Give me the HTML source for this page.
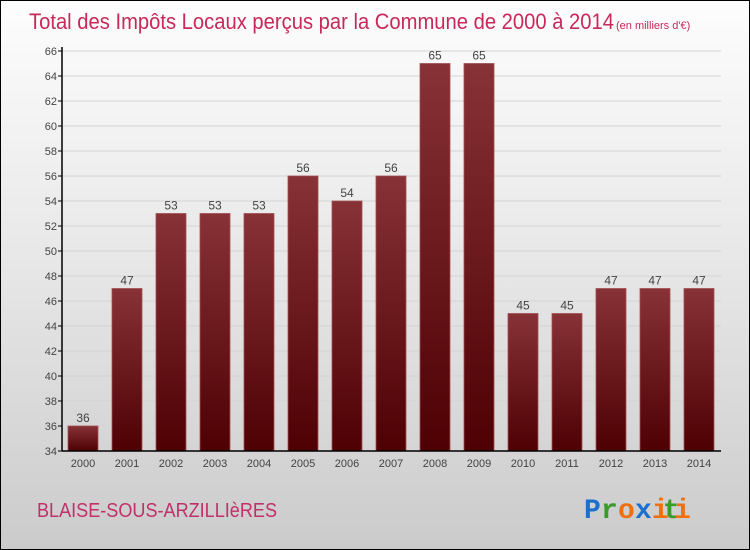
<!DOCTYPE html>
<html><head><meta charset="utf-8"><style>
body{margin:0;}
#wrap{position:relative;width:748px;height:548px;border:1px solid #000;background:linear-gradient(#fdfdfd,#e6e6e6 50%,#cbcbcb);font-family:"Liberation Sans",sans-serif;overflow:hidden}
svg{position:absolute;left:0;top:0}
</style></head><body>
<div id="wrap">
<svg id="chart" width="750" height="550">
<defs><linearGradient id="bg" x1="0" y1="0" x2="0" y2="1"><stop offset="0" stop-color="#873236"/><stop offset="1" stop-color="#4e0003"/></linearGradient></defs>
<text x="28" y="28" font-size="22" fill="#c8285a" textLength="585" lengthAdjust="spacingAndGlyphs">Total des Impôts Locaux perçus par la Commune de 2000 à 2014</text>
<text x="615" y="28" font-size="11" fill="#c8285a">(en milliers d'€)</text>
<text x="36" y="516" font-size="20" fill="#c0306a" textLength="240" lengthAdjust="spacingAndGlyphs">BLAISE-SOUS-ARZILLIèRES</text>
<g font-size="28" font-weight="bold" font-family="'Liberation Mono',monospace">
<text x="583" y="517" fill="#1a6fcf">P</text><text x="600" y="517" fill="#3a9a2a">r</text><text x="617" y="517" fill="#f07010">o</text><text x="634" y="517" fill="#1a6fcf">x</text><text x="651" y="517" fill="#f07010">i</text><text x="662" y="517" fill="#3a9a2a">t</text><text x="673" y="517" fill="#f07010">i</text>
</g>
<g id="plot"></g>
</svg>
</div>
<script>
const categories=["2000","2001","2002","2003","2004","2005","2006","2007","2008","2009","2010","2011","2012","2013","2014"];
const values=[36,47,53,53,53,56,54,56,65,65,45,45,47,47,47];
const yTicks=[34,36,38,40,42,44,46,48,50,52,54,56,58,60,62,64,66];
const ns="http://www.w3.org/2000/svg";
const g=document.getElementById('plot');
const yMin=34,yMax=66,plotTop=50,plotBot=450,x0=61,x1=720;
const y=v=>plotBot-(v-yMin)/(yMax-yMin)*(plotBot-plotTop);
const x=i=>67+44*i;
function mk(t,a,p){const e=document.createElementNS(ns,t);for(const k in a)e.setAttribute(k,a[k]);(p||g).appendChild(e);return e;}
yTicks.forEach(v=>{
 const l=mk('line',{x1:x0+1,x2:x1,y1:y(v),y2:y(v),stroke:'#d4d4d4','stroke-width':1});
 
 
 const tk=mk('line',{x1:x0-4,x2:x0,y1:y(v),y2:y(v),stroke:'#000'});
 
 
 const t=mk('text',{x:x0-5,y:y(v)+4,'font-size':11,fill:'#444','text-anchor':'end'});
 t.textContent=v;
 
 
});
values.forEach((v,i)=>{
 const r=mk('rect',{x:x(i),y:y(v),width:30,height:plotBot-y(v),fill:'url(#bg)',stroke:'#a05055','stroke-width':0.8});
 
 
 const t=mk('text',{x:x(i)+15,y:y(v)-4,'font-size':12,fill:'#444','text-anchor':'middle'});
 t.textContent=v;
 
 
 const c=mk('text',{x:x(i)+15,y:466,'font-size':11,fill:'#444','text-anchor':'middle'});
 c.textContent=categories[i];
 
 
});
const ya=mk('line',{x1:x0,x2:x0,y1:plotTop-4,y2:plotBot,stroke:'#000','stroke-width':1.5});


const xa=mk('line',{x1:x0,x2:x1,y1:plotBot,y2:plotBot,stroke:'#000','stroke-width':1.5});


</script>
</body></html>
